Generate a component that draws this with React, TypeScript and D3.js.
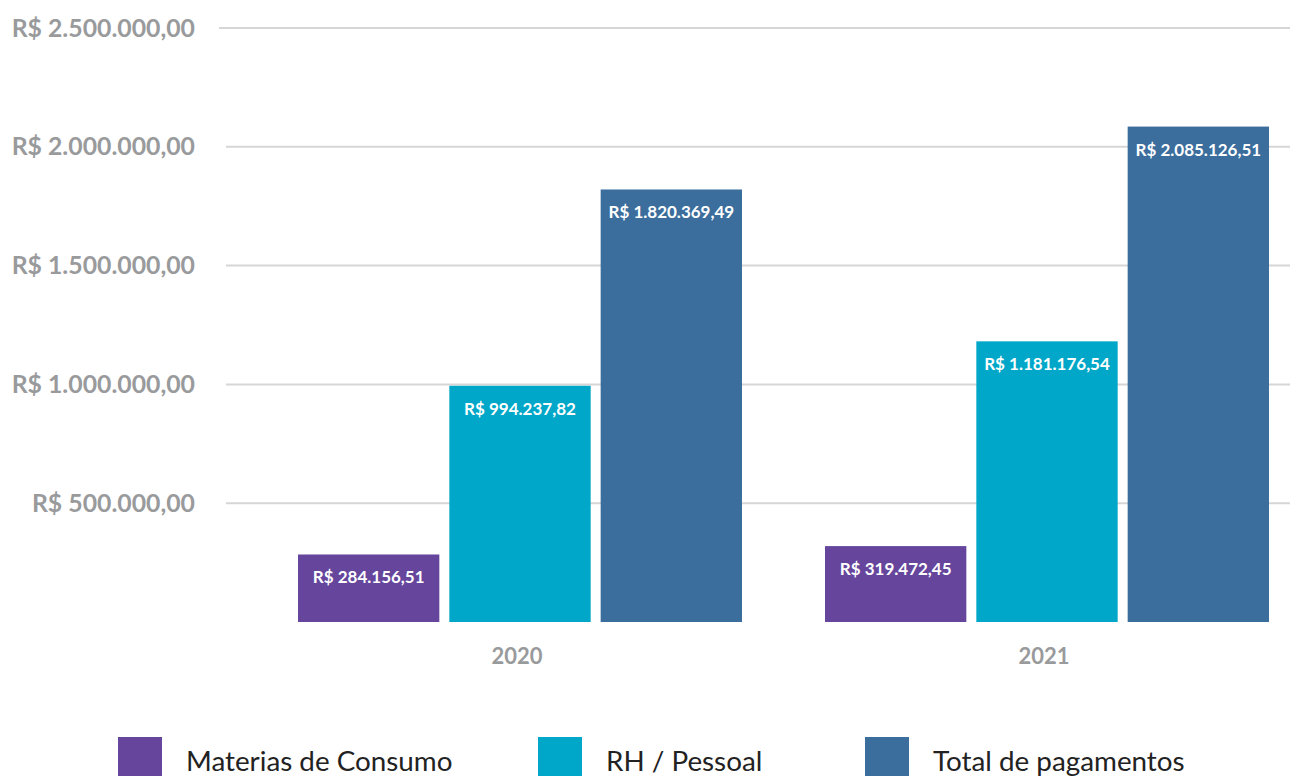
import React from "react";
import * as d3 from "d3";

const years = ["2020", "2021"];
const seriesNames = ["Materias de Consumo", "RH / Pessoal", "Total de pagamentos"];
const materiais = [284156.51, 319472.45];
const pessoal = [994237.82, 1181176.54];
const total = [1820369.49, 2085126.51];
const yTicks = [500000, 1000000, 1500000, 2000000, 2500000];
const colors = ["#65469c", "#00a7c8", "#3b6d9d"];

const W = 1290;
const H = 776;

const fmt = (v: number) => {
  const [int, dec] = v.toFixed(2).split(".");
  const withDots = int.replace(/\B(?=(\d{3})+(?!\d))/g, ".");
  return `R$ ${withDots},${dec}`;
};

export default function App() {
  const series = [materiais, pessoal, total];
  const y = d3.scaleLinear().domain([0, 2500000]).range([622, 28]);
  const x0 = d3.scaleBand<string>().domain(years).range([298, 1269]).paddingInner(0.1575);
  const x1 = d3
    .scaleBand<string>()
    .domain(seriesNames)
    .range([0, x0.bandwidth()])
    .paddingInner(0.066);
  const font = "Lato, 'Noto Sans', sans-serif";
  const legendX = [118, 538, 865];

  return (
    <svg
      width={W}
      height={H}
      style={{ position: "absolute", left: 0, top: 0, background: "#fff" }}
      fontFamily={font}
    >
      {yTicks.map((t, i) => (
        <g key={t}>
          <line
            x1={i === yTicks.length - 1 ? 219 : 226}
            x2={W}
            y1={y(t)}
            y2={y(t)}
            stroke="#d6d6d6"
            strokeWidth={2}
          />
          <text
            x={195}
            y={y(t)}
            dy="0.35em"
            textAnchor="end"
            fontSize={24.8}
            fontWeight={700}
            fill="#999a9c"
          >
            {fmt(t)}
          </text>
        </g>
      ))}
      {years.map((yr, gi) => (
        <g key={yr} transform={`translate(${x0(yr)},0)`}>
          {seriesNames.map((s, si) => {
            const v = series[si][gi];
            const bx = x1(s)!;
            const by = y(v);
            return (
              <g key={s}>
                <rect x={bx} y={by} width={x1.bandwidth()} height={y(0) - by} fill={colors[si]} />
                <text
                  x={bx + x1.bandwidth() / 2}
                  y={by + 29}
                  textAnchor="middle"
                  fontSize={17}
                  fontWeight={700}
                  fill="#ffffff"
                >
                  {fmt(v)}
                </text>
              </g>
            );
          })}
          <text
            x={x0.bandwidth() / 2 - 3}
            y={664}
            textAnchor="middle"
            fontSize={22}
            fontWeight={700}
            fill="#999a9c"
          >
            {yr}
          </text>
        </g>
      ))}
      {seriesNames.map((s, i) => (
        <g key={s}>
          <rect x={legendX[i]} y={737} width={44} height={44} fill={colors[i]} />
          <text x={legendX[i] + 68} y={771} fontSize={27.8} fill="#222">
            {s}
          </text>
        </g>
      ))}
    </svg>
  );
}
